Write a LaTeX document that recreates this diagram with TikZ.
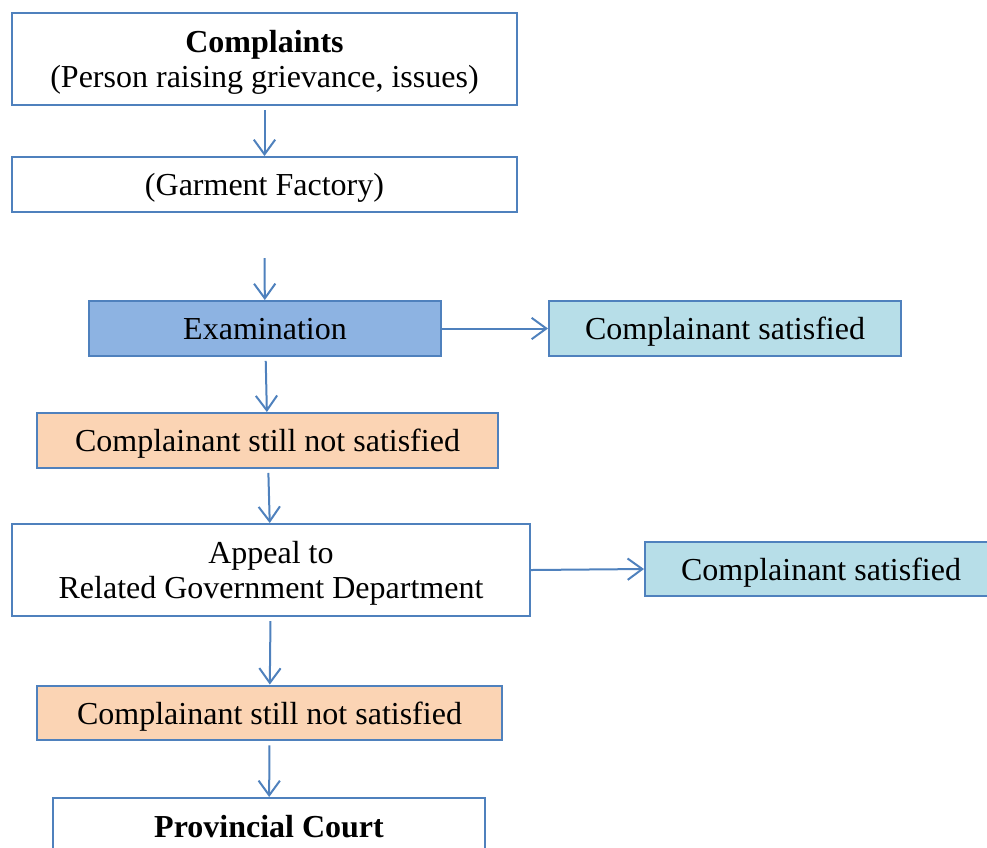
\documentclass[tikz,border=0pt]{standalone}
\usepackage{fontspec}
\setmainfont{Liberation Serif}
\usetikzlibrary{arrows.meta}
\definecolor{lineblue}{HTML}{4F81BD}
\definecolor{exblue}{HTML}{8DB3E2}
\definecolor{satblue}{HTML}{B7DEE8}
\definecolor{peach}{HTML}{FBD4B4}
\begin{document}
\begin{tikzpicture}[x=0.375pt,y=-0.375pt]
\tikzset{box/.style = {shape=rectangle,draw=lineblue,line width=0.75pt,align=center,font=\fontsize{12}{13.2}\selectfont,inner sep=0pt,text depth=0pt,minimum height=20.6pt}}
\tikzset{edge/.style = {-{Straight Barb[length=5.5pt,width=8pt]},draw=lineblue,line width=0.75pt,shorten <=1.5pt}}
\useasboundingbox (0,0) rectangle (987,847);
\clip (0,0) rectangle (987,847);
% boxes
\node[box,minimum width=189.4pt,minimum height=34.5pt] (compl) at (264.5,59) {\textbf{Complaints}\\(Person raising grievance, issues)};
\node[box,minimum width=189.4pt] (factory) at (264.5,184.5) {(Garment Factory)};
\coordinate (below) at (264.5,254);
\node[box,fill=exblue,minimum width=132pt] (exam) at (265,328.5) {Examination};
\node[box,fill=satblue,minimum width=132pt] (sat1) at (725,328.5) {Complainant satisfied};
\node[box,fill=peach,minimum width=172.9pt] (notsat1) at (267.5,440.5) {Complainant still not satisfied};
\node[box,minimum width=194.25pt,minimum height=34.5pt] (appeal) at (271,570) {Appeal to\\Related Government Department};
\node[box,fill=satblue,minimum width=132pt] (sat2) at (821,569) {Complainant satisfied};
\node[box,fill=peach,minimum width=174.4pt] (notsat2) at (269.5,713) {Complainant still not satisfied};
\node[box,minimum width=162pt,minimum height=34.5pt,anchor=north] (court) at (269,797) {\textbf{Provincial Court}\\\mbox{}};

% edges
\draw[edge] (compl) to (factory);
\draw[edge] (below) to (exam);
\draw[edge,shorten <=0pt] (exam) to (sat1);
\draw[edge] (exam) to (notsat1);
\draw[edge] (notsat1) to (appeal);
\draw[edge,shorten <=0pt] (appeal.east) to (sat2.west);
\draw[edge] (appeal) to (notsat2);
\draw[edge] (notsat2) to (court);

\end{tikzpicture}
\end{document}
